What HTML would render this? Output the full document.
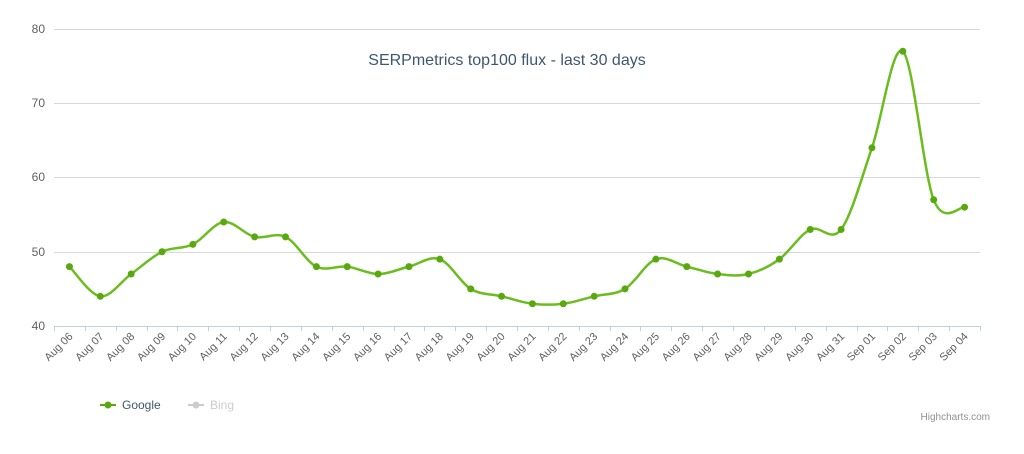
<!DOCTYPE html>
<html><head><meta charset="utf-8"><style>
body{margin:0;background:#fff;width:1024px;height:449px;overflow:hidden}
svg{font-family:"Liberation Sans",sans-serif}
</style></head><body>
<svg id="c" width="1024" height="449" xmlns="http://www.w3.org/2000/svg">
<g stroke="#d8d8d8" stroke-width="1">
<line x1="54" x2="980" y1="29.5" y2="29.5"/>
<line x1="54" x2="980" y1="103.5" y2="103.5"/>
<line x1="54" x2="980" y1="177.5" y2="177.5"/>
<line x1="54" x2="980" y1="252.5" y2="252.5"/>
</g>
<line x1="54" x2="980" y1="326.5" y2="326.5" stroke="#c0d0e0"/>
<g font-size="12" fill="#606060" text-anchor="end">
<text x="45" y="33">80</text><text x="45" y="107">70</text><text x="45" y="181">60</text><text x="45" y="256">50</text><text x="45" y="330">40</text>
</g>
<text x="507" y="65" text-anchor="middle" font-size="16" fill="#3e576f">SERPmetrics top100 flux - last 30 days</text>
<g id="ticks" stroke="#c0d0e0"></g>
<g id="labels" font-size="11" fill="#606060"></g>
<path id="line" fill="none" stroke="#6bbd1f" stroke-width="2.5"/>
<g id="pts" fill="#5aa80f"></g>
<g font-size="12">
<line x1="100" x2="116" y1="405" y2="405" stroke="#5aa80f" stroke-width="2"/><circle cx="108" cy="405" r="3.5" fill="#5aa80f"/>
<text x="122" y="409" fill="#3e576f">Google</text>
<line x1="188" x2="204" y1="405" y2="405" stroke="#ccc" stroke-width="2"/><circle cx="196" cy="405" r="3.5" fill="#ccc"/>
<text x="210" y="409" fill="#ccc">Bing</text>
</g>
<text x="990" y="420" text-anchor="end" font-size="10" fill="#909090">Highcharts.com</text>
</svg>
<script>
var d=[48,44,47,50,51,54,52,52,48,48,47,48,49,45,44,43,43,44,45,49,48,47,47,49,53,53,64,77,57,56];
var lab=[];for(var i=6;i<=31;i++)lab.push("Aug "+(i<10?"0"+i:i));for(var i=1;i<=4;i++)lab.push("Sep 0"+i);
var w=926/30,ns="http://www.w3.org/2000/svg";
function X(i){return 54+w*(i+0.5)}function Y(v){return 326-(v-40)*7.425}
var t=document.getElementById("ticks"),L=document.getElementById("labels"),P=document.getElementById("pts");
for(var i=0;i<=30;i++){var l=document.createElementNS(ns,"line");var x=Math.round(54+w*i)+0.5;l.setAttribute("x1",x);l.setAttribute("x2",x);l.setAttribute("y1",326);l.setAttribute("y2",331);t.appendChild(l);}
var pts=d.map(function(v,i){return [X(i),Y(v)]});
pts.forEach(function(p,i){var c=document.createElementNS(ns,"circle");c.setAttribute("cx",p[0]);c.setAttribute("cy",p[1]);c.setAttribute("r",3.5);P.appendChild(c);
var tx=document.createElementNS(ns,"text");tx.setAttribute("text-anchor","end");tx.setAttribute("transform","translate("+(p[0]+4)+",337) rotate(-45)");tx.textContent=lab[i];L.appendChild(tx);});
var s="M"+pts[0][0]+","+pts[0][1],k=1/6;
for(var i=0;i<pts.length-1;i++){var p0=pts[Math.max(i-1,0)],p1=pts[i],p2=pts[i+1],p3=pts[Math.min(i+2,pts.length-1)];
var c1=[p1[0]+(p2[0]-p0[0])*k,p1[1]+(p2[1]-p0[1])*k],c2=[p2[0]-(p3[0]-p1[0])*k,p2[1]-(p3[1]-p1[1])*k];
s+=" C"+c1[0]+","+c1[1]+" "+c2[0]+","+c2[1]+" "+p2[0]+","+p2[1];}
document.getElementById("line").setAttribute("d",s);
</script>
</body></html>
